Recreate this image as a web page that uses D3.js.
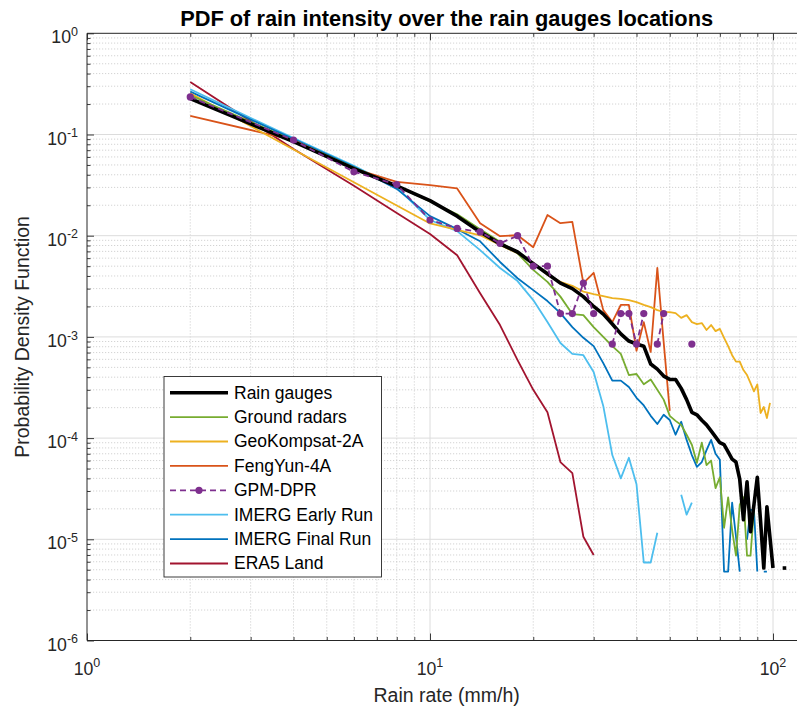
<!DOCTYPE html>
<meta charset="utf-8">
<head>
<style>
  body { margin: 0; background: #fff; }
  svg { display: block; font-family: "Liberation Sans", Arial, Helvetica, sans-serif; }
  .minor { stroke: #c8c8c8; stroke-width: 0.8; stroke-dasharray: 1.2,1.8; }
  .major { stroke: #dcdcdc; stroke-width: 1; }
  .ax line, .ax path { stroke: #262626; }
  .ticklbl { font-size: 17.7px; fill: #262626; }
  .sup { font-size: 12.5px; }
  .lbl { font-size: 19.5px; fill: #262626; }
  .ttl { font-size: 21.8px; font-weight: bold; fill: #000; }
  .leg { font-size: 17.5px; fill: #000; }
</style>
</head>
<body>
<svg id="chart" width="797" height="708"></svg>
<script src="https://d3js.org/d3.v7.min.js"></script>
<script>

// bin centres (mm/h)
var rainRate = [2,4,6,8,10,12,14,16,18,20,22,24,26,28,30,32,34,36,38,40,42,44,46,48,50,
                52,54,56,58,60,62,64,66,68,70,72,74,76,78,80,82,84,86,88,90,92,94,96,98,100,
                102,104,106,108];

var rainGauges = [0.226,0.085,0.046,0.031,0.0222,0.0156,0.0109,0.0083,0.0069,0.0053,0.0042,0.0034,0.0030,0.0025,0.0020,
  0.00168,0.00134,0.00107,0.00091,0.00085,0.00081,0.00054,0.00048,0.00041,0.00038,0.00038,0.00031,0.00024,0.00018,0.00017,
  0.00015,0.000135,0.000118,0.000103,0.000090,0.000086,0.000073,0.000062,0.000058,0.000039,0.0000156,0.000037,0.0000119,
  0.000022,0.000041,0.000015,0.0000052,0.000021,0.0000104,0.0000052,null,null,null,0.0000052];

var groundRadars = [0.244,0.087,0.047,0.031,0.0218,0.0163,0.0116,0.0087,0.0067,0.0046,0.0035,0.0025,0.00168,0.00164,0.00125,
  0.0010,0.00081,0.00068,0.00042,0.00043,0.00034,0.00038,0.00030,0.00024,0.000166,0.000148,0.000135,0.000108,0.000086,0.000057,
  0.000090,0.000054,0.000060,0.000032,0.000041,0.000013,0.000026,0.0000124,0.0000069,0.000022,0.000026,0.0000069,0.0000069,
  0.000020,null,null,null,null,null,null,null,null,null,null];

var geoKompsat = [0.256,0.071,0.0337,0.0199,0.0132,0.0114,0.0101,0.0081,0.0067,0.0054,0.0041,0.0035,0.0032,0.0028,0.00265,
  0.00253,0.00242,0.00237,0.00231,0.00221,0.00207,0.00197,0.00184,0.00177,0.00176,0.00172,0.00154,0.00164,0.0014,0.00134,
  0.00137,0.00117,0.00131,0.00114,0.0012,0.00098,0.00081,0.00066,0.00057,0.00057,0.00047,0.00042,0.00035,0.00029,0.00034,
  0.000177,0.000203,0.000158,0.000223,null,null,null,null,null];

var fengYun = [0.153,0.088,0.046,0.034,0.0316,0.0293,0.0133,0.0099,0.0101,0.0077,0.016,0.0133,0.0137,0.0034,0.0043,
  0.00184,0.0014,0.00207,0.00207,0.00073,0.0014,0.00071,0.0048,0.00089,0.000186,null,null,null,null,null,
  null,null,null,null,null,null,null,null,null,null,null,null,null,null,null,null,null,null,null,null,null,null,null,null];

var gpmDpr = [0.235,0.088,0.0428,0.032,0.0143,0.0118,0.0109,0.0084,0.0100,0.0050,0.0050,0.0017,0.0017,0.0034,0.0017,
  null,0.00085,0.0017,0.0017,0.00085,0.0017,null,0.00085,0.0017,null,null,null,null,0.00085,null,
  null,null,null,null,null,null,null,null,null,null,null,null,null,null,null,null,null,null,null,null,null,null,null,null];

var imergEarly = [0.28,0.092,0.049,0.030,0.0143,0.0111,0.0072,0.0048,0.00356,0.00231,0.0014,0.00087,0.00068,0.00066,0.00045,
  0.000208,0.000068,0.000040,0.000064,0.000035,0.0000059,0.0000059,0.0000116,null,null,null,0.0000275,0.0000175,0.000023,null,
  null,null,null,null,null,null,null,null,null,null,null,null,null,null,null,null,null,null,null,null,null,null,null,null];

var imergFinal = [0.265,0.09,0.048,0.029,0.0156,0.0116,0.0088,0.0055,0.0038,0.0029,0.00226,0.00172,0.00125,0.00098,0.00081,
  0.00055,0.00037,0.00037,0.00032,0.00025,0.00021,0.000166,0.000138,0.00017,0.000151,0.000108,0.000145,0.000096,0.000068,0.000052,
  0.000058,0.000076,0.000096,0.000070,0.000061,0.0000048,0.0000048,0.000023,0.0000106,0.0000048,null,0.0000099,0.0000195,
  0.0000195,0.0000048,null,0.0000048,0.0000048,null,null,null,null,null,null];

var era5Land = [0.33,0.072,0.0312,0.0168,0.0104,0.0064,0.0027,0.00131,0.00059,0.0003,0.00018,0.000058,0.000045,0.0000106,0.000007,
  null,null,null,null,null,null,null,null,null,null,null,null,null,null,null,
  null,null,null,null,null,null,null,null,null,null,null,null,null,null,null,null,null,null,null,null,null,null,null,null];

var legendNames = ["Rain gauges","Ground radars","GeoKompsat-2A","FengYun-4A","GPM-DPR",
                   "IMERG Early Run","IMERG Final Run","ERA5 Land"];
var seriesData = [rainGauges, groundRadars, geoKompsat, fengYun, gpmDpr, imergEarly, imergFinal, era5Land];
var seriesColors = ["#000000","#77AC30","#EDB120","#D95319","#7E2F8E","#4DBEEE","#0072BD","#A2142F"];
var drawOrder = [7,5,6,3,2,1,0,4];

var xTickExp = [0,1,2];
var yTickExp = [0,-1,-2,-3,-4,-5,-6];


var svg = d3.select("#chart");
var x0 = 87, yTop = 33.3, yBot = 640.5;
var x = d3.scaleLog().domain([1,125]).range([x0, x0 + 343*Math.log10(125)]);
var y = d3.scaleLog().domain([1e-6,1]).range([yBot, yTop]);
var x1 = x.range()[1];

// minor values
var xMinor = [], yMinor = [];
[1,10,100].forEach(function (d) { for (var k = 2; k < 10; k++) if (d*k <= 125) xMinor.push(d*k); });
for (var e = -6; e < 0; e++) for (var k = 2; k < 10; k++) yMinor.push(k*Math.pow(10,e));

var grid = svg.append("g");
grid.selectAll(".mx").data(xMinor).enter().append("line").attr("class","minor")
  .attr("x1",d=>x(d)).attr("x2",d=>x(d)).attr("y1",yTop).attr("y2",yBot);
grid.selectAll(".my").data(yMinor).enter().append("line").attr("class","minor")
  .attr("y1",d=>y(d)).attr("y2",d=>y(d)).attr("x1",x0).attr("x2",x1);
grid.selectAll(".gx").data([10,100]).enter().append("line").attr("class","major")
  .attr("x1",d=>x(d)).attr("x2",d=>x(d)).attr("y1",yTop).attr("y2",yBot);
grid.selectAll(".gy").data([1e-5,1e-4,1e-3,1e-2,1e-1]).enter().append("line").attr("class","major")
  .attr("y1",d=>y(d)).attr("y2",d=>y(d)).attr("x1",x0).attr("x2",x1);

// series
var clip = svg.append("clipPath").attr("id","clp").append("rect")
  .attr("x",x0).attr("y",yTop).attr("width",x1-x0).attr("height",yBot-yTop);
var plot = svg.append("g").attr("clip-path","url(#clp)");

var line = d3.line()
  .defined(d => d[1] != null)
  .x(d => x(d[0])).y(d => y(d[1]));

drawOrder.forEach(function (s) {
  var pts = rainRate.map((r,i) => [r, seriesData[s][i]]);
  var isGpm = (s === 4), isBlack = (s === 0);
  var lw = isBlack ? 3.6 : 1.8;
  plot.append("path").datum(pts)
    .attr("d", line)
    .attr("fill","none")
    .attr("stroke", seriesColors[s])
    .attr("stroke-width", lw)
    .attr("stroke-dasharray", isGpm ? "6,4" : null)
    .attr("stroke-linejoin","round");
  var valid = pts.filter(p => p[1] != null);
  if (isGpm) {
    plot.selectAll(".gpm").data(valid).enter().append("circle")
      .attr("cx",d=>x(d[0])).attr("cy",d=>y(d[1])).attr("r",3.6)
      .attr("fill",seriesColors[s]);
  } else {
    // lone points (no neighbours) still show as a dot
    var lone = pts.filter((p,i) => p[1] != null &&
      (i === 0 || pts[i-1][1] == null) && (i === pts.length-1 || pts[i+1][1] == null));
    plot.selectAll(".lone"+s).data(lone).enter().append("rect")
      .attr("x",d=>x(d[0])-lw/2).attr("y",d=>y(d[1])-lw/2)
      .attr("width",lw).attr("height",lw).attr("fill",seriesColors[s]);
  }
});

// axes (ticks inside, box)
var tickVals = xTickExp.map(e => Math.pow(10,e));
var yTickVals = yTickExp.map(e => Math.pow(10,e));

function inTicks(g, axis) { g.call(axis); g.selectAll("text").remove(); g.select(".domain").remove(); }

var axB = svg.append("g").attr("class","ax").attr("transform","translate(0,"+yBot+")");
inTicks(axB, d3.axisBottom(x).tickValues(tickVals).tickSize(-7));
var axBm = svg.append("g").attr("class","ax").attr("transform","translate(0,"+yBot+")");
inTicks(axBm, d3.axisBottom(x).tickValues(xMinor).tickSize(-3.5));
var axT = svg.append("g").attr("class","ax").attr("transform","translate(0,"+yTop+")");
inTicks(axT, d3.axisTop(x).tickValues(tickVals).tickSize(-7));
var axTm = svg.append("g").attr("class","ax").attr("transform","translate(0,"+yTop+")");
inTicks(axTm, d3.axisTop(x).tickValues(xMinor).tickSize(-3.5));
var axL = svg.append("g").attr("class","ax").attr("transform","translate("+x0+",0)");
inTicks(axL, d3.axisLeft(y).tickValues(yTickVals).tickSize(-7));
var axLm = svg.append("g").attr("class","ax").attr("transform","translate("+x0+",0)");
inTicks(axLm, d3.axisLeft(y).tickValues(yMinor).tickSize(-3.5));
svg.selectAll(".ax line").attr("stroke-width",0.9);

svg.append("line").attr("x1",x0).attr("x2",x1).attr("y1",yBot).attr("y2",yBot)
  .attr("stroke","#262626").attr("stroke-width",1);
svg.append("line").attr("x1",x0).attr("x2",x1).attr("y1",yTop).attr("y2",yTop)
  .attr("stroke","#262626").attr("stroke-width",1);
svg.append("line").attr("x1",x0).attr("x2",x0).attr("y1",yTop).attr("y2",yBot)
  .attr("stroke","#262626").attr("stroke-width",1);

// tick labels 10^n
xTickExp.forEach(function (e) {
  var t = svg.append("text").attr("class","ticklbl").attr("text-anchor","middle")
    .attr("x", x(Math.pow(10,e))).attr("y", 675);
  t.append("tspan").text("10");
  t.append("tspan").attr("class","sup").attr("dy",-8).text(e);
});
yTickExp.forEach(function (e) {
  var t = svg.append("text").attr("class","ticklbl").attr("text-anchor","end")
    .attr("x", 78).attr("y", y(Math.pow(10,e)) + 10);
  t.append("tspan").text("10");
  t.append("tspan").attr("class","sup").attr("dy",-7.3).text(e === 0 ? "0" : "-" + Math.abs(e));
});

// labels
var xc = (x0 + x1) / 2;
svg.append("text").attr("class","ttl").attr("text-anchor","middle")
  .attr("x", xc).attr("y", 26)
  .text("PDF of rain intensity over the rain gauges locations");
svg.append("text").attr("class","lbl").attr("text-anchor","middle")
  .attr("x", xc).attr("y", 701.5).text("Rain rate (mm/h)");
svg.append("text").attr("class","lbl").attr("text-anchor","middle")
  .attr("transform","translate(29,"+((yTop+yBot)/2)+") rotate(-90)")
  .text("Probability Density Function");

// legend
var lg = svg.append("g");
lg.append("rect").attr("x",164).attr("y",376.5).attr("width",217.5).attr("height",200.5)
  .attr("fill","#fff").attr("stroke","#262626").attr("stroke-width",0.9);
legendNames.forEach(function (nm, i) {
  var cy = 392.7 + i*24.4;
  lg.append("line").attr("x1",170).attr("x2",228).attr("y1",cy).attr("y2",cy)
    .attr("stroke",seriesColors[i]).attr("stroke-width", i === 0 ? 3.6 : 1.8)
    .attr("stroke-dasharray", i === 4 ? "6,4" : null);
  if (i === 4) lg.append("circle").attr("cx",199).attr("cy",cy).attr("r",3.6).attr("fill",seriesColors[i]);
  lg.append("text").attr("class","leg").attr("x",234).attr("y",cy+5.8).text(nm);
});

</script>
</body>
